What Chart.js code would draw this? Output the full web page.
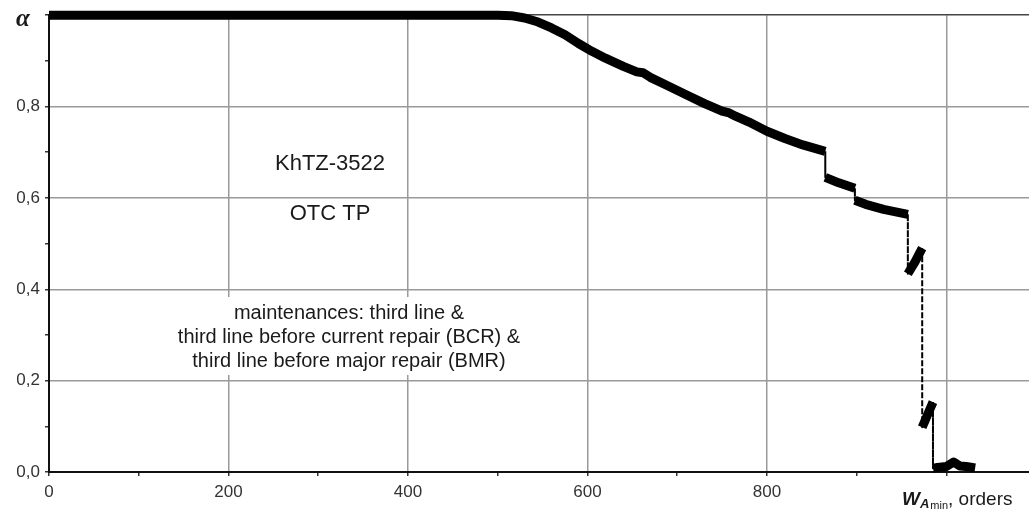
<!DOCTYPE html>
<html>
<head>
<meta charset="utf-8">
<script src="https://cdn.jsdelivr.net/npm/chart.js@4.4.1/dist/chart.umd.min.js"></script>
<style>
  html, body { margin: 0; padding: 0; background: #fff; }
  #wrap { width: 1029px; height: 515px; }
</style>
</head>
<body>
<div id="wrap"><canvas id="alphaChart" width="1029" height="515"></canvas></div>
<script>
// W_A min (orders) and alpha; repeated x = vertical jump
const wOrders = [0, 250, 500, 515, 530, 545, 560, 575, 590, 605, 620, 640, 655, 662, 670, 690, 710, 730, 750, 758, 765, 780, 800, 820, 840, 865,
  865, 880, 898,
  898, 910, 930, 957,
  957, 965, 973,
  973, 985,
  985, 990, 1000, 1008, 1015, 1022, 1032];
const alphaValues = [1, 1, 1, 0.999, 0.994, 0.985, 0.972, 0.957, 0.938, 0.921, 0.906, 0.888, 0.876, 0.874, 0.864, 0.845, 0.826, 0.807, 0.79, 0.786, 0.779, 0.766, 0.746, 0.73, 0.716, 0.702,
  0.645, 0.633, 0.621,
  0.595, 0.586, 0.575, 0.564,
  0.434, 0.46, 0.49,
  0.098, 0.153,
  0.008, 0.01, 0.012, 0.022, 0.013, 0.012, 0.009];

const xTickValues = [0, 100, 200, 300, 400, 500, 600, 700, 800, 900, 1000];
const xTickLabels = ['0', '', '200', '', '400', '', '600', '', '800', '', ''];
const yTickValues = [0, 0.1, 0.2, 0.3, 0.4, 0.5, 0.6, 0.7, 0.8, 0.9, 1.0];
const yTickLabels = ['0,0', '', '0,2', '', '0,4', '', '0,6', '', '0,8', '', ''];

const brandLines = ['KhTZ-3522', 'OTC TP'];
const maintenanceLines = [
  'maintenances: third line &',
  'third line before current repair (BCR) &',
  'third line before major repair (BMR)'
];

const FONT = '"Liberation Sans", Arial, sans-serif';

function isJump(ctx) {
  return Math.abs(ctx.p1.parsed.x - ctx.p0.parsed.x) < 0.5;
}

const notesPlugin = {
  id: 'notes',
  beforeDatasetsDraw(chart) {
    const c = chart.ctx;
    c.save();
    c.textAlign = 'center';
    c.textBaseline = 'middle';
    c.fillStyle = '#1a1a1a';
    c.font = '22px ' + FONT;
    c.fillText(brandLines[0], 330, 164);
    c.fillText(brandLines[1], 330, 214);

    c.font = '20px ' + FONT;
    const w = Math.max(...maintenanceLines.map(t => c.measureText(t).width)) + 8;
    c.fillStyle = '#fff';
    c.fillRect(349 - w / 2, 297, w, 78);
    c.fillStyle = '#1a1a1a';
    maintenanceLines.forEach((t, i) => c.fillText(t, 349, 313 + i * 24));
    c.restore();
  },
  afterDraw(chart) {
    const c = chart.ctx;
    c.save();
    c.fillStyle = '#1a1a1a';
    c.textBaseline = 'alphabetic';
    c.textAlign = 'left';
    // alpha at top of y axis
    c.font = 'italic bold 25px "Liberation Serif", serif';
    c.fillText('α', 16, 26);
    // x axis title W_Amin, orders
    let x = 902;
    c.font = 'italic bold 19px ' + FONT;
    c.fillText('W', x, 505);
    x += c.measureText('W').width;
    c.font = 'italic bold 13px ' + FONT;
    c.fillText('A', x, 508);
    x += c.measureText('A').width + 1;
    c.font = '11px ' + FONT;
    c.fillText('min', x, 509);
    x += c.measureText('min').width;
    c.font = '19px ' + FONT;
    c.fillText(', orders', x, 505);
    c.restore();
  }
};

new Chart(document.getElementById('alphaChart'), {
  type: 'line',
  data: {
    datasets: [{
      data: wOrders.map((w, i) => ({ x: w, y: alphaValues[i] })),
      borderColor: '#000',
      borderWidth: 9,
      borderCapStyle: 'butt',
      borderJoinStyle: 'round',
      pointRadius: 0,
      tension: 0,
      clip: false,
      segment: {
        borderWidth: ctx => isJump(ctx) ? 2 : 9,
        borderDash: ctx => isJump(ctx) ? [4, 4] : undefined
      }
    }]
  },
  plugins: [notesPlugin],
  options: {
    responsive: false,
    animation: false,
    layout: { padding: { top: 14, right: 0, bottom: 0, left: 0 } },
    plugins: { legend: { display: false }, tooltip: { enabled: false } },
    scales: {
      x: {
        type: 'linear',
        min: 0,
        max: 1092,
        afterBuildTicks: axis => { axis.ticks = xTickValues.map(v => ({ value: v })); },
        afterFit: axis => { axis.height = 43; },
        border: { color: '#111', width: 2 },
        grid: {
          color: ctx => (ctx.tick && ctx.tick.value % 200 === 0 && ctx.tick.value > 0) ? '#9a9a9a' : 'rgba(0,0,0,0)',
          lineWidth: 1.5,
          tickColor: '#333',
          tickLength: 4
        },
        ticks: {
          color: '#333',
          font: { family: FONT, size: 17 },
          padding: 6,
          maxRotation: 0,
          autoSkip: false,
          callback: (v, i) => xTickLabels[i]
        }
      },
      y: {
        min: 0,
        max: 1,
        afterBuildTicks: axis => { axis.ticks = yTickValues.map(v => ({ value: v })); },
        afterFit: axis => { axis.width = 49; },
        border: { color: '#111', width: 2 },
        grid: {
          color: ctx => {
            if (!ctx.tick) return 'rgba(0,0,0,0)';
            const k = Math.round(ctx.tick.value * 10);
            if (k === 10) return '#444';
            return (k > 0 && k % 2 === 0) ? '#9a9a9a' : 'rgba(0,0,0,0)';
          },
          lineWidth: 1.5,
          tickColor: '#333',
          tickLength: 4
        },
        ticks: {
          color: '#333',
          font: { family: FONT, size: 17 },
          padding: 5,
          autoSkip: false,
          callback: (v, i) => yTickLabels[i]
        }
      }
    }
  }
});
</script>
</body>
</html>
